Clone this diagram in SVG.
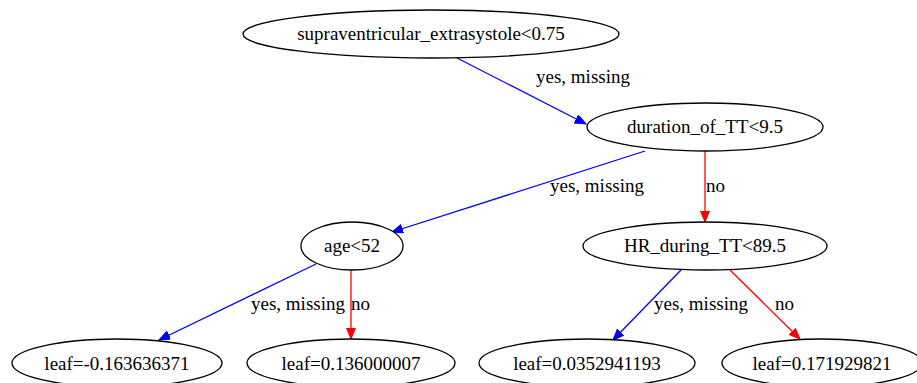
<svg xmlns="http://www.w3.org/2000/svg" width="917" height="383" viewBox="0 0 917 383">
<style>
  .node ellipse { fill: #ffffff; stroke: #000000; stroke-width: 1.3; }
  .node text { font-family: "Liberation Serif", "Times New Roman", serif; font-size: 19px; fill: #000000; text-anchor: middle; }
  .lbl { font-family: "Liberation Serif", "Times New Roman", serif; font-size: 19px; fill: #000000; }
  .yes { stroke: #0000ff; stroke-width: 1.3; fill: none; marker-end: url(#ab); }
  .no { stroke: #ff0000; stroke-width: 1.3; fill: none; marker-end: url(#ar); }
</style>
<defs>
  <marker id="ab" markerWidth="12" markerHeight="10" refX="11" refY="4.5" orient="auto" markerUnits="userSpaceOnUse">
    <path d="M0,0 L11,4.5 L0,9 Z" fill="#0000ff" stroke="#0000ff"/>
  </marker>
  <marker id="ar" markerWidth="12" markerHeight="10" refX="11" refY="4.5" orient="auto" markerUnits="userSpaceOnUse">
    <path d="M0,0 L11,4.5 L0,9 Z" fill="#ff0000" stroke="#ff0000"/>
  </marker>
</defs>
<rect width="917" height="383" fill="#ffffff"/>
<g id="edges">
  <path class="yes" d="M457,58 L586,124"/>
  <text class="lbl" x="536" y="83">yes, missing</text>
  <path class="yes" d="M645,151 L392,232"/>
  <text class="lbl" x="550" y="192">yes, missing</text>
  <path class="no" d="M705,151 L705,222"/>
  <text class="lbl" x="706" y="192">no</text>
  <path class="yes" d="M316,264 L159,340"/>
  <text class="lbl" x="251" y="310">yes, missing</text>
  <path class="no" d="M351,270 L351,339"/>
  <text class="lbl" x="351" y="310">no</text>
  <path class="yes" d="M681,270 L613,340"/>
  <text class="lbl" x="654" y="310">yes, missing</text>
  <path class="no" d="M730,270 L800,339"/>
  <text class="lbl" x="775" y="310">no</text>
</g>
<g id="n0" class="node"><ellipse cx="431" cy="34" rx="188" ry="24"/><text x="431" y="40">supraventricular_extrasystole&lt;0.75</text></g>
<g id="n1" class="node"><ellipse cx="705" cy="127" rx="118" ry="24"/><text x="705" y="133">duration_of_TT&lt;9.5</text></g>
<g id="n2" class="node"><ellipse cx="352" cy="246" rx="51" ry="24"/><text x="352" y="252">age&lt;52</text></g>
<g id="n3" class="node"><ellipse cx="705" cy="246" rx="122" ry="24"/><text x="705" y="252">HR_during_TT&lt;89.5</text></g>
<g id="n4" class="node"><ellipse cx="117" cy="363" rx="105" ry="24"/><text x="117" y="370">leaf=-0.163636371</text></g>
<g id="n5" class="node"><ellipse cx="351" cy="363" rx="104" ry="24"/><text x="351" y="370">leaf=0.136000007</text></g>
<g id="n6" class="node"><ellipse cx="587" cy="363" rx="108" ry="24"/><text x="587" y="370">leaf=0.0352941193</text></g>
<g id="n7" class="node"><ellipse cx="822" cy="363" rx="100" ry="24"/><text x="822" y="370">leaf=0.171929821</text></g>
</svg>
